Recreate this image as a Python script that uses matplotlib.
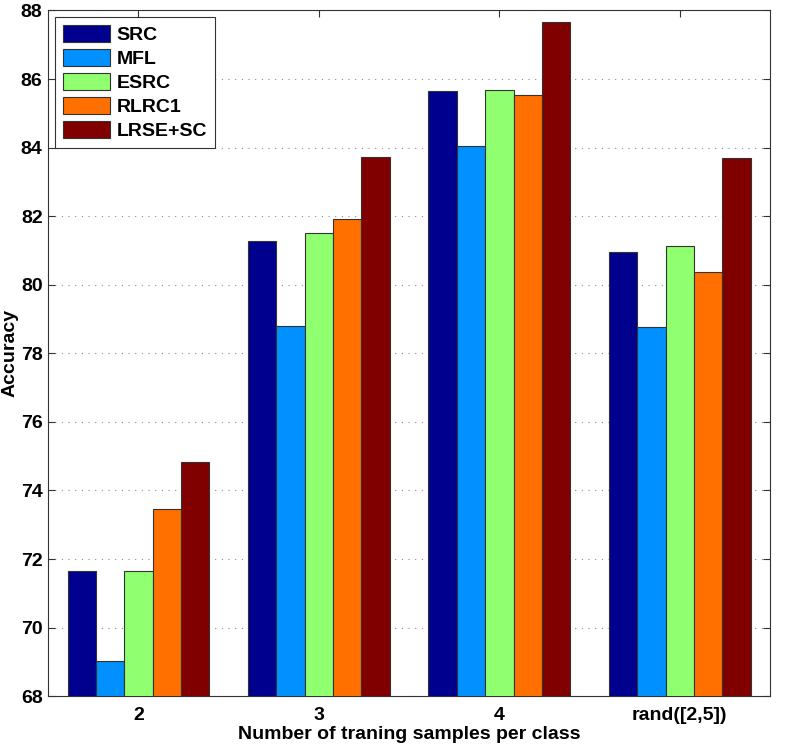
import matplotlib
matplotlib.use("Agg")
import matplotlib.pyplot as plt
import numpy as np

plt.rcParams["font.family"] = ["Liberation Sans", "DejaVu Sans"]

# ── Data ──
groups = ["2", "3", "4", "rand([2,5])"]
methods = ["SRC", "MFL", "ESRC", "RLRC1", "LRSE+SC"]
src = [71.66, 81.28, 85.65, 80.95]
mfl = [69.03, 78.81, 84.05, 78.76]
esrc = [71.66, 81.50, 85.67, 81.12]
rlrc1 = [73.46, 81.92, 85.53, 80.38]
lrse_sc = [74.82, 83.72, 87.66, 83.70]

colors = ["#00008f", "#0090ff", "#90ff70", "#ff7000", "#800000"]

fig = plt.figure(figsize=(7.89, 7.47), dpi=100)
ax = fig.add_axes([0.061, 0.068, 0.915, 0.918])

x = np.arange(1, len(groups) + 1)
series = [src, mfl, esrc, rlrc1, lrse_sc]
w = 0.157
for i, (vals, name, c) in enumerate(zip(series, methods, colors)):
    ax.bar(x + (i - 2) * w, vals, width=w, bottom=0, color=c,
           edgecolor="#333333", linewidth=0.8, label=name, zorder=3)

ax.set_xlim(0.5, 4.5)
ax.set_ylim(68, 88)
ax.set_xticks(x)
ax.set_xticklabels(groups)
ax.set_yticks(np.arange(68, 89, 2))
ax.yaxis.grid(True, linestyle=(0, (1, 5)), color="#888888", linewidth=0.8, zorder=0)
ax.tick_params(direction="in", top=True, right=True, length=5, width=0.8,
               labelsize=14, color="#333333")
ax.tick_params(axis="x", pad=8)
ax.tick_params(axis="y", pad=4)
for lbl in ax.get_xticklabels() + ax.get_yticklabels():
    lbl.set_fontweight("bold")
for s in ax.spines.values():
    s.set_color("#333333")
    s.set_linewidth(0.8)

ax.set_xlabel("Number of traning samples per class", fontsize=14,
              fontweight="bold", labelpad=1)
ax.set_ylabel("Accuracy", fontsize=14, fontweight="bold", labelpad=2)

leg = ax.legend(loc="upper left", bbox_to_anchor=(0.0097, 0.99),
                borderaxespad=0,
                prop={"weight": "bold", "size": 14}, fancybox=False,
                framealpha=1, edgecolor="#333333", handlelength=2.4,
                handleheight=0.95, labelspacing=0.25, borderpad=0.4,
                handletextpad=0.35)
leg.get_frame().set_linewidth(0.8)

fig.savefig("out.png", dpi=100, facecolor="white")
